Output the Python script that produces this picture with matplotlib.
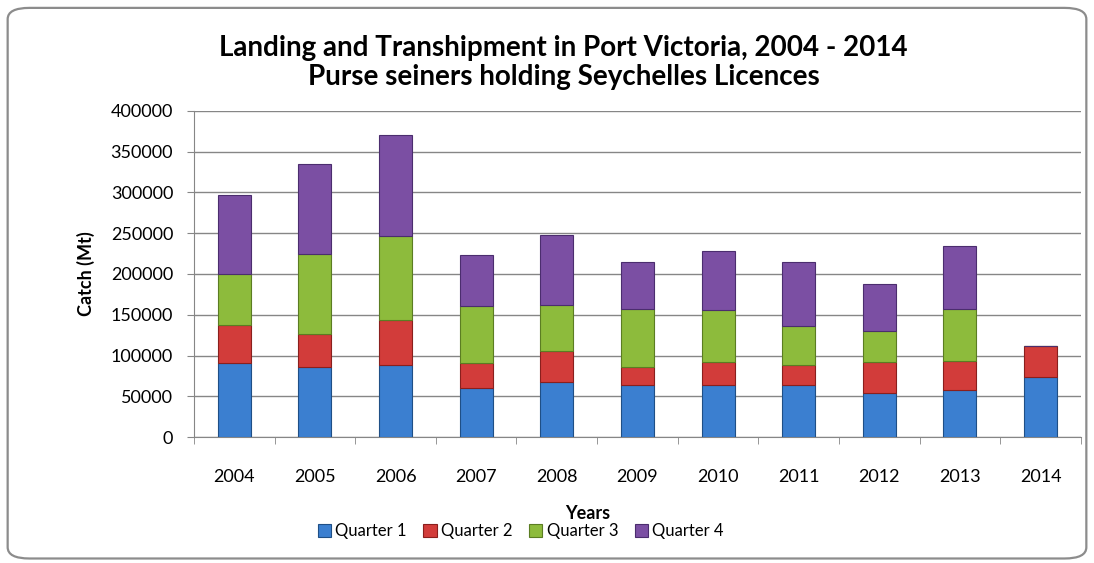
import numpy as np
import matplotlib.pyplot as plt
from matplotlib.patches import FancyBboxPatch

years = ['2004', '2005', '2006', '2007', '2008', '2009', '2010', '2011', '2012', '2013', '2014']
q1 = [91000, 86000, 88000, 60700, 67600, 64300, 64300, 64300, 54600, 57400, 73700]
q2 = [46000, 40000, 55500, 30100, 38300, 22000, 27700, 24800, 37400, 36200, 38300]
q3 = [63000, 99000, 103500, 69600, 55800, 70900, 63900, 46800, 38300, 63500, 0]
q4 = [97000, 110000, 123500, 63100, 85900, 57000, 72100, 78600, 57400, 77400, 0]
series = ['Quarter 1', 'Quarter 2', 'Quarter 3', 'Quarter 4']
colors = ['#3b7fd0', '#d23c3a', '#8dbb3c', '#7b4fa3']
edges = ['#1f4f86', '#8a1f1d', '#5b7d22', '#4b2d6e']

plt.rcParams['font.family'] = ['Lato', 'DejaVu Sans']

fig = plt.figure(figsize=(10.94, 5.63), dpi=100)
# rounded frame round the chart
frame = FancyBboxPatch((0.007, 0.008), 0.986, 0.978, boxstyle='round,pad=0,rounding_size=0.02',
                       transform=fig.transFigure, facecolor='none', edgecolor='#8c8c8c',
                       linewidth=1.6, zorder=-1)
fig.patches.append(frame)

ax = fig.add_axes([0.1773, 0.2233, 0.8107, 0.5801])
ax.set_facecolor('none')
x = np.arange(len(years))
bottom = np.zeros(len(years))
for vals, name, c, ec in zip([q1, q2, q3, q4], series, colors, edges):
    vals = np.array(vals, dtype=float)
    ax.bar(x, vals, 0.41, bottom=bottom, color=c, edgecolor=ec, linewidth=0.8, label=name, zorder=3)
    bottom += vals

ax.set_xlim(-0.5, len(years) - 0.5)
ax.set_ylim(0, 400000)
ax.set_yticks(np.arange(0, 400001, 50000))
ax.set_yticklabels([str(v) for v in range(0, 400001, 50000)], fontsize=13)
ax.set_xticks(x)
ax.set_xticklabels(years, fontsize=13)
ax.set_xticks(np.arange(-0.5, len(years), 1), minor=True)
ax.tick_params(axis='x', which='major', length=0, pad=23)
ax.tick_params(axis='x', which='minor', length=5, color='#868686')
ax.tick_params(axis='y', length=5, color='#868686', pad=10)
ax.grid(axis='y', color='#868686', linewidth=1, zorder=0)
for s in ['top', 'right']:
    ax.spines[s].set_visible(False)
ax.spines['left'].set_color('#868686')
ax.spines['bottom'].set_color('#868686')

ax.set_ylabel('Catch (Mt)', fontsize=13, fontweight='bold', labelpad=11)
fig.text(0.537, 0.088, 'Years', ha='center', va='center', fontsize=13, fontweight='bold')
fig.text(0.515, 0.889, 'Landing and Transhipment in Port Victoria, 2004 - 2014\nPurse seiners holding Seychelles Licences',
         ha='center', va='center', fontsize=20, fontweight='bold', linespacing=1.15)

ax.legend(loc='center', bbox_to_anchor=(0.476, 0.056), bbox_transform=fig.transFigure, ncol=4,
          frameon=False, fontsize=12, handlelength=0.8, handleheight=0.8, handletextpad=0.25,
          columnspacing=1.0, borderpad=0)

fig.savefig('out.png', dpi=100)
